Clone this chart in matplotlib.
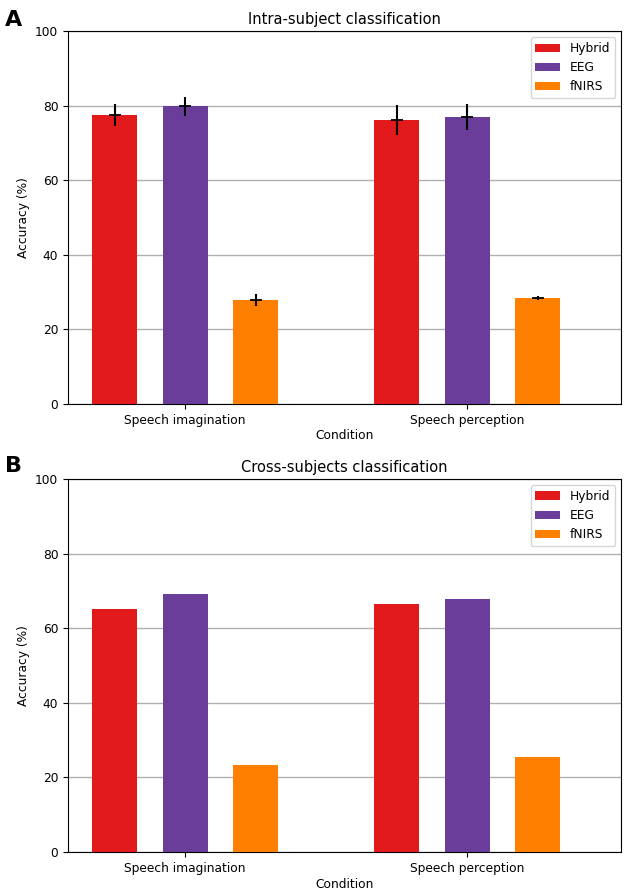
import numpy as np
import matplotlib
matplotlib.use("Agg")
import matplotlib.pyplot as plt

conditions = ["Speech imagination", "Speech perception"]
modalities = ["Hybrid", "EEG", "fNIRS"]
colors = ["#e31a1c", "#6a3d9a", "#ff7f00"]

# intra-subject accuracy (%) and error, per modality: [imagination, perception]
intra_mean = {"Hybrid": [77.5, 76.1], "EEG": [79.8, 77.0], "fNIRS": [27.9, 28.4]}
intra_err = {"Hybrid": [3.0, 4.0], "EEG": [2.5, 3.5], "fNIRS": [1.5, 0.6]}

# cross-subject accuracy (%)
cross_mean = {"Hybrid": [65.1, 66.5], "EEG": [69.3, 67.7], "fNIRS": [23.3, 25.5]}

plt.rcParams["font.size"] = 8.8

fig = plt.figure(figsize=(6.3, 8.93), dpi=100)
ax1 = fig.add_axes([0.108, 0.5476, 0.878, 0.4176])
ax2 = fig.add_axes([0.108, 0.0459, 0.878, 0.4177])

x = np.arange(len(conditions))
offsets = [-0.25, 0.0, 0.25]
width = 0.16


def draw(ax, means, errs, title):
    for i, m in enumerate(modalities):
        ax.bar(x + offsets[i], means[m], width, color=colors[i], label=m, zorder=3)
        if errs is not None:
            ax.errorbar(x + offsets[i], means[m], yerr=errs[m], fmt="_", color="black",
                        markersize=8, elinewidth=1.5, mew=1.3, zorder=4)
    ax.set_xticks(x)
    ax.set_xticklabels(conditions)
    ax.set_xlim(-0.415, 1.546)
    ax.set_ylim(0, 100)
    ax.set_yticks([0, 20, 40, 60, 80, 100])
    ax.yaxis.grid(True, color="#b0b0b0", linewidth=1, zorder=0)
    ax.set_axisbelow(True)
    ax.set_xlabel("Condition", labelpad=2)
    ax.set_ylabel("Accuracy (%)")
    ax.set_title(title, fontsize=10.5, pad=5)
    ax.legend(loc="upper right")


draw(ax1, intra_mean, intra_err, "Intra-subject classification")
draw(ax2, cross_mean, None, "Cross-subjects classification")

fig.text(0.008, 0.978, "A", fontsize=16, fontweight="bold", va="center")
fig.text(0.008, 0.478, "B", fontsize=16, fontweight="bold", va="center")

fig.savefig("out.png", dpi=100)
